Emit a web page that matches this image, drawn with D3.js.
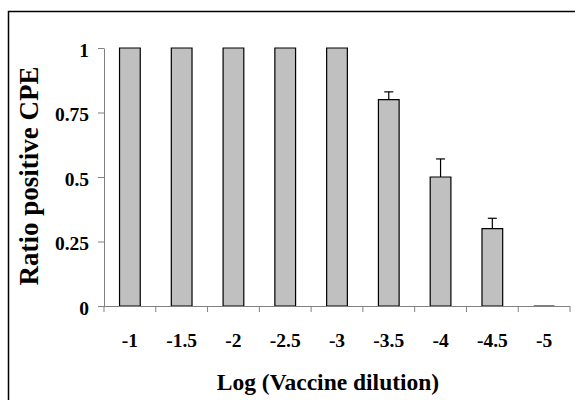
<!DOCTYPE html>
<html>
<head>
<meta charset="utf-8">
<script src="https://cdn.jsdelivr.net/npm/d3@7"></script>
<style>
  body { margin: 0; background: #fff; }
  svg text { font-family: "Liberation Serif", "Times New Roman", serif; font-weight: bold; fill: #000; }
</style>
</head>
<body>
<div id="chart"></div>
<script>
// values
const dilutions = ["-1", "-1.5", "-2", "-2.5", "-3", "-3.5", "-4", "-4.5", "-5"];
const ratios = [1, 1, 1, 1, 1, 0.8, 0.5, 0.3, 0];
const errors = [0, 0, 0, 0, 0, 0.03, 0.07, 0.04, 0];
const yTicks = [0, 0.25, 0.5, 0.75, 1];

const data = dilutions.map((d, i) => ({ label: d, value: ratios[i], err: errors[i] }));

const width = 575, height = 400;
const plot = { left: 104, right: 570, top: 48, bottom: 306 };

const svg = d3.select("#chart").append("svg")
    .attr("width", width)
    .attr("height", height);

// frame around the whole chart
svg.append("rect")
    .attr("x", 8.5).attr("y", 11.5)
    .attr("width", 600).attr("height", 420)
    .attr("fill", "none")
    .attr("stroke", "#000")
    .attr("stroke-width", 1.5);

const x = d3.scaleBand()
    .domain(dilutions)
    .range([plot.left, plot.right])
    .paddingInner(0.6)
    .paddingOuter(0.3);

const y = d3.scaleLinear()
    .domain([0, 1])
    .range([plot.bottom, plot.top]);

const axisColor = "#808080";

// y axis
const yAxis = svg.append("g")
    .attr("transform", `translate(${plot.left},0)`)
    .call(d3.axisLeft(y).tickValues(yTicks).tickSize(6).tickSizeOuter(0).tickFormat(d => String(d)));
yAxis.select(".domain").attr("stroke", axisColor);
yAxis.selectAll(".tick line").attr("stroke", axisColor);
yAxis.selectAll(".tick text")
    .attr("x", -15).attr("dy", null).attr("y", 8)
    .style("font-size", "19.5px");

// bars drawn as paths so the zero-height bar still shows its outline
svg.append("g").selectAll("path")
    .data(data)
    .enter().append("path")
    .attr("d", d => {
        const x0 = x(d.label), x1 = x0 + x.bandwidth();
        return `M${x0},${y(0)}V${y(d.value)}H${x1}V${y(0)}Z`;
    })
    .attr("fill", "#c0c0c0")
    .attr("stroke", "#000")
    .attr("stroke-width", 1.2);

// error bars (upper only)
const eb = svg.append("g").selectAll("g")
    .data(data.filter(d => d.err > 0))
    .enter().append("g")
    .attr("stroke", "#000")
    .attr("stroke-width", 1.2);
eb.append("line")
    .attr("x1", d => x(d.label) + x.bandwidth() / 2)
    .attr("x2", d => x(d.label) + x.bandwidth() / 2)
    .attr("y1", d => y(d.value))
    .attr("y2", d => y(d.value + d.err));
eb.append("line")
    .attr("x1", d => x(d.label) + x.bandwidth() / 2 - 4.5)
    .attr("x2", d => x(d.label) + x.bandwidth() / 2 + 4.5)
    .attr("y1", d => y(d.value + d.err))
    .attr("y2", d => y(d.value + d.err));

// x axis: labels at band centres, ticks at band boundaries
const xAxis = svg.append("g")
    .attr("transform", `translate(0,${plot.bottom})`)
    .call(d3.axisBottom(x).tickSize(0).tickSizeOuter(0));
xAxis.select(".domain").attr("stroke", axisColor).attr("d", `M${plot.left},0.5H${plot.right}`);
xAxis.selectAll(".tick text")
    .attr("dy", null).attr("y", 40.5)
    .style("font-size", "19.5px");
xAxis.selectAll(".boundary")
    .data(d3.range(dilutions.length + 1))
    .enter().append("line")
    .attr("class", "boundary")
    .attr("x1", i => plot.left + i * x.step())
    .attr("x2", i => plot.left + i * x.step())
    .attr("y1", 0).attr("y2", 6)
    .attr("stroke", axisColor);

// axis titles
svg.append("text")
    .attr("x", 328).attr("y", 390)
    .attr("text-anchor", "middle")
    .style("font-size", "23.5px")
    .text("Log (Vaccine dilution)");

svg.append("text")
    .attr("transform", "translate(38,176) rotate(-90)")
    .attr("text-anchor", "middle")
    .style("font-size", "27px")
    .text("Ratio positive CPE");
</script>
</body>
</html>
